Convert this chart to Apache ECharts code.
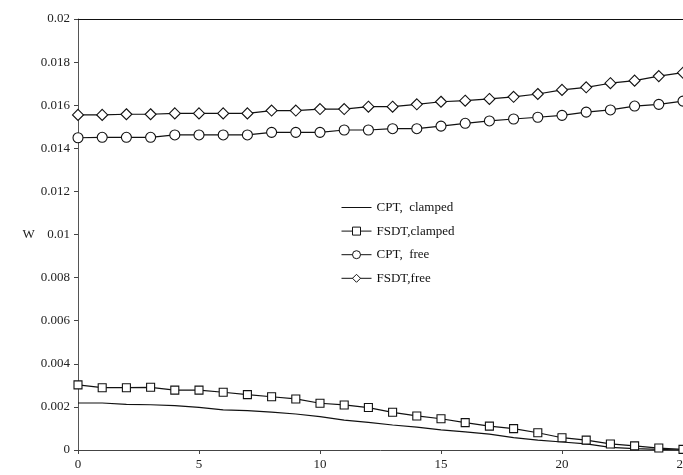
<!DOCTYPE html>
<html>
<head>
<meta charset="utf-8">
<script src="https://cdn.jsdelivr.net/npm/echarts@6/dist/echarts.min.js"></script>
<style>
	html, body { margin: 0; padding: 0; background: #fff; }
	#main { width: 683px; height: 475px; }
</style>
</head>
<body>
<div id="main"></div>
<script>
// x positions 0..25
var xs = [0, 1, 2, 3, 4, 5, 6, 7, 8, 9, 10, 11, 12, 13, 14, 15, 16, 17, 18, 19, 20, 21, 22, 23, 24, 25];
var names = ['CPT,  clamped', 'FSDT,clamped', 'CPT,  free', 'FSDT,free'];

var cptClamped = [0.00218, 0.00218, 0.00212, 0.00210, 0.00206, 0.00198, 0.00186, 0.00183, 0.00176, 0.00167,
	0.00155, 0.00139, 0.00128, 0.00116, 0.00106, 0.00093, 0.00084, 0.00074, 0.00057, 0.00046,
	0.00037, 0.00028, 0.00012, 0.00006, 0.00003, 0.0];
var fsdtClamped = [0.00302, 0.00289, 0.00289, 0.00291, 0.00278, 0.00278, 0.00268, 0.00257, 0.00247, 0.00237,
	0.00217, 0.00209, 0.00197, 0.00175, 0.00158, 0.00145, 0.00127, 0.00111, 0.00099, 0.00080,
	0.00057, 0.00046, 0.00028, 0.00019, 0.00009, 0.00003];
var cptFree = [0.01449, 0.01451, 0.01451, 0.01451, 0.01462, 0.01462, 0.01462, 0.01462, 0.01474, 0.01474,
	0.01474, 0.01485, 0.01485, 0.01491, 0.01491, 0.01503, 0.01516, 0.01527, 0.01536, 0.01544,
	0.01553, 0.01568, 0.01578, 0.01596, 0.01604, 0.01619];
var fsdtFree = [0.01555, 0.01555, 0.01558, 0.01558, 0.01562, 0.01562, 0.01562, 0.01562, 0.01575, 0.01575,
	0.01582, 0.01582, 0.01593, 0.01593, 0.01604, 0.01616, 0.01621, 0.01629, 0.01639, 0.01652,
	0.01671, 0.01683, 0.01702, 0.01714, 0.01735, 0.01751];

function pairs(vals) {
	return xs.map(function(x, i) { return [x, vals[i]]; });
}

var serif = 'Liberation Serif';
var myChart = echarts.init(document.getElementById('main'));

function mk(name, vals, symbol, size) {
	return {
		name: name,
		type: 'line',
		data: pairs(vals),
		symbol: symbol,
		symbolSize: size,
		showSymbol: symbol !== 'none',
		lineStyle: { color: '#111', width: 1.2 },
		itemStyle: { color: '#fff', borderColor: '#111', borderWidth: 1.1 },
		emphasis: { disabled: true }
	};
}

var option = {
	animation: false,
	grid: { left: 78, right: 0, top: 19, bottom: 25, containLabel: false, outerBoundsMode: 'none' },
	legend: {
		orient: 'vertical',
		left: 341,
		top: 201,
		padding: 0,
		itemWidth: 30,
		itemHeight: 10,
		itemGap: 10.6,
		itemStyle: { borderWidth: 1 },
		lineStyle: { width: 1 },
		data: [
			{ name: names[0], icon: 'path://M0,0L30,0L30,1L0,1Z', itemStyle: { color: '#111', borderWidth: 0 } },
			names[1], names[2], names[3]
		],
		textStyle: { fontFamily: serif, fontSize: 13, color: '#111' }
	},
	xAxis: [{
		type: 'value',
		min: 0,
		max: 25,
		interval: 5,
		axisLine: { lineStyle: { color: '#444', width: 1 } },
		axisTick: { show: true, length: 4, lineStyle: { color: '#444' } },
		axisLabel: { fontFamily: serif, fontSize: 13, color: '#222', margin: 8 },
		splitLine: { show: false }
	}, {
		type: 'value',
		position: 'top',
		min: 0,
		max: 25,
		axisLine: { show: true, lineStyle: { color: '#111', width: 1.2 } },
		axisTick: { show: false },
		axisLabel: { show: false },
		splitLine: { show: false }
	}],
	yAxis: {
		type: 'value',
		min: 0,
		max: 0.02,
		interval: 0.002,
		name: 'W',
		nameLocation: 'middle',
		nameRotate: 0,
		nameGap: 35,
		nameTextStyle: { fontFamily: serif, fontSize: 13, color: '#222' },
		axisLine: { show: true, lineStyle: { color: '#555', width: 1 } },
		axisTick: { show: true, length: 4, lineStyle: { color: '#444' } },
		axisLabel: { fontFamily: serif, fontSize: 13, color: '#222', margin: 8 },
		splitLine: { show: false }
	},
	series: [
		mk(names[0], cptClamped, 'none', 0),
		mk(names[1], fsdtClamped, 'rect', 8),
		mk(names[2], cptFree, 'circle', 10),
		mk(names[3], fsdtFree, 'diamond', 11)
	]
};
myChart.setOption(option);
</script>
</body>
</html>
